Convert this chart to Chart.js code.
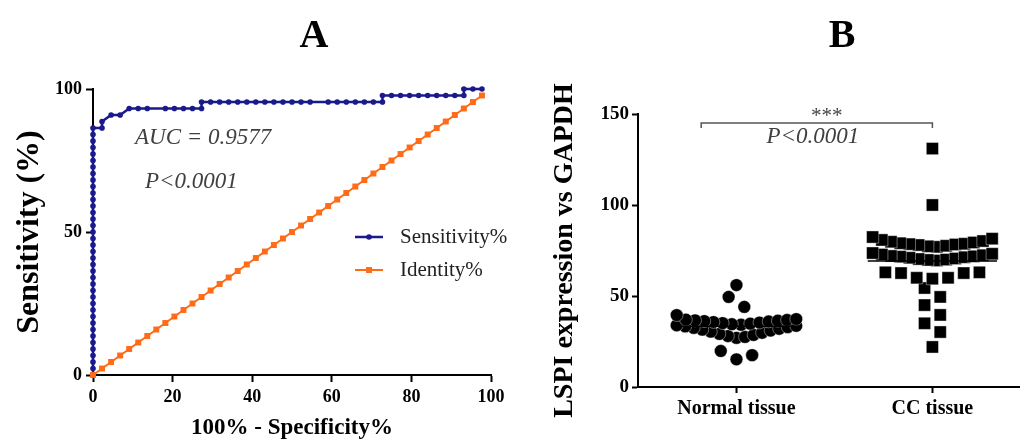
<!DOCTYPE html>
<html>

<head>
  <meta charset="utf-8">
  <title>LSPI ROC curve and expression</title>
  <script src="https://cdn.jsdelivr.net/npm/chart.js@4.4.1/dist/chart.umd.min.js"></script>
  <style>
    html,
    body {
      margin: 0;
      padding: 0;
      background-color: #fff;
    }

    #wrap {
      position: relative;
      width: 1028px;
      height: 440px;
      overflow: hidden;
    }

    .panel {
      position: absolute;
      top: 0;
      width: 514px;
      height: 440px;
    }

    #panelA {
      left: 0;
    }

    #panelB {
      left: 514px;
    }
  </style>
</head>

<body>
  <div id="wrap">
    <div class="panel" id="panelA"><canvas id="rocChart" width="514" height="440"></canvas></div>
    <div class="panel" id="panelB"><canvas id="dotChart" width="514" height="440"></canvas></div>
  </div>

  <script>
    // ---- Panel A: ROC curve (100% - specificity vs sensitivity) ----
    const rocFpr = [
      0, 0, 0, 0, 0, 0, 0, 0, 0, 0,
      0, 0, 0, 0, 0, 0, 0, 0, 0, 0,
      0, 0, 0, 0, 0, 0, 0, 0, 0, 0,
      0, 0, 0, 0, 0, 0, 0, 0, 0,
      2.27, 2.27, 4.55, 6.82,
      9.09, 11.36, 13.64, 18.18, 20.45, 22.73, 25, 27.27,
      27.27, 29.55, 31.82, 34.09, 36.36, 38.64, 40.91, 43.18, 45.45, 47.73,
      50, 52.27, 54.55, 59.09, 61.36, 63.64, 65.91, 68.18, 70.45, 72.73,
      72.73, 75, 77.27, 79.55, 81.82, 84.09, 86.36, 88.64, 90.91, 93.18,
      93.18, 95.45, 97.73
    ];
    const rocSens = [
      0, 2.27, 4.55, 6.82, 9.09, 11.36, 13.64, 15.91, 18.18, 20.45,
      22.73, 25, 27.27, 29.55, 31.82, 34.09, 36.36, 38.64, 40.91, 43.18,
      45.45, 47.73, 50, 52.27, 54.55, 56.82, 59.09, 61.36, 63.64, 65.91,
      68.18, 70.45, 72.73, 75, 77.27, 79.55, 81.82, 84.09, 86.36,
      86.36, 88.64, 90.91, 90.91,
      93.18, 93.18, 93.18, 93.18, 93.18, 93.18, 93.18, 93.18,
      95.45, 95.45, 95.45, 95.45, 95.45, 95.45, 95.45, 95.45, 95.45, 95.45,
      95.45, 95.45, 95.45, 95.45, 95.45, 95.45, 95.45, 95.45, 95.45, 95.45,
      97.73, 97.73, 97.73, 97.73, 97.73, 97.73, 97.73, 97.73, 97.73, 97.73,
      100, 100, 100
    ];
    // identity line: same value on both axes
    const identityPct = [
      0, 2.27, 4.55, 6.82, 9.09, 11.36, 13.64, 15.91, 18.18, 20.45,
      22.73, 25, 27.27, 29.55, 31.82, 34.09, 36.36, 38.64, 40.91, 43.18,
      45.45, 47.73, 50, 52.27, 54.55, 56.82, 59.09, 61.36, 63.64, 65.91,
      68.18, 70.45, 72.73, 75, 77.27, 79.55, 81.82, 84.09, 86.36, 88.64,
      90.91, 93.18, 95.45, 97.73
    ];
    const rocLabels = ['Sensitivity%', 'Identity%'];

    // ---- Panel B: LSPI expression vs GAPDH ----
    const groupNames = ['Normal tissue', 'CC tissue'];
    const normalValues = [
      56, 49.5, 44,
      39.5, 37.3, 37, 36.8, 36.6, 36.4, 36.2, 36, 35.7, 35.4, 35.1, 34.8, 34.5, 34.2,
      33.9, 33.6, 33.3, 32.9, 32.5, 32, 31.5, 31, 30.4, 29.8, 29.2, 28.6, 28, 27.5, 27,
      19.8, 17.5, 15.2
    ];
    const ccValues = [
      131, 100,
      82.4, 81.5, 80.8, 80.2, 79.8, 79.4, 79, 78.7, 78.5, 78.3, 78, 77.6, 77.3, 77,
      73.6, 73.2, 72.8, 72.4, 72, 71.8, 71.6, 71.3, 71, 70.6, 70.3, 70, 69.8, 69.5,
      63, 63, 62.6, 62.6, 60, 60, 59.5,
      54.4, 49.5, 45, 39.6, 35, 30.2, 22
    ];
    const significance = { from: 0.82, to: 2, level: 145, stars: '***', text: 'P<0.0001' };

    Chart.defaults.font.family = '"Liberation Serif", "Times New Roman", serif';
    Chart.defaults.color = '#000';

    const NAVY = '#1a1a8c';
    const ORANGE = '#ff6b17';

    // GraphPad-like scatter: values grouped in rows from the bottom, lowest of a row in the middle
    function swarm(values, centre, rowSpan, step, maxWidth) {
      const sorted = values.slice().sort((a, b) => a - b);
      const pts = [];
      let i = 0;
      while (i < sorted.length) {
        const start = sorted[i];
        const row = [];
        while (i < sorted.length && sorted[i] <= start + rowSpan) row.push(sorted[i++]);
        const n = row.length;
        const gap = n > 1 ? Math.min(step, maxWidth / (n - 1)) : 0;
        row.forEach((v, k) => {
          let slot;
          if (n % 2) slot = k === 0 ? 0 : (k % 2 ? 1 : -1) * Math.ceil(k / 2);
          else slot = (k % 2 ? -1 : 1) * (Math.floor(k / 2) + 0.5);
          pts.push({ x: centre + slot * gap, y: v });
        });
      }
      return pts;
    }

    function meanLine(values, centre) {
      const m = values.reduce((a, b) => a + b, 0) / values.length;
      return [{ x: centre - 0.33, y: m }, { x: centre + 0.33, y: m }];
    }

    const axisLook = {
      grid: { drawOnChartArea: false, drawTicks: true, tickLength: 7, tickWidth: 2, tickColor: '#000' },
      border: { display: true, color: '#000', width: 2 }
    };

    // ---- chart A ----
    const panelAText = {
      id: 'panelAText',
      afterDraw(chart) {
        const ctx = chart.ctx;
        ctx.save();
        ctx.fillStyle = '#000';
        ctx.font = 'bold 40px "Liberation Serif"';
        ctx.textAlign = 'center';
        ctx.textBaseline = 'alphabetic';
        ctx.fillText('A', 314, 47);

        ctx.fillStyle = '#404040';
        ctx.font = 'italic 23px "Liberation Serif"';
        ctx.textAlign = 'left';
        ctx.textBaseline = 'middle';
        ctx.fillText('AUC = 0.9577', 135, 138);
        ctx.fillText('P<0.0001', 145, 182);

        // legend
        const rows = [237, 270];
        [1, 0].forEach((dsIndex, r) => {
          const ds = chart.data.datasets[dsIndex];
          const y = rows[r];
          ctx.strokeStyle = ds.borderColor;
          ctx.lineWidth = ds.borderWidth;
          ctx.beginPath();
          ctx.moveTo(355, y);
          ctx.lineTo(383, y);
          ctx.stroke();
          ctx.fillStyle = ds.pointBackgroundColor;
          Chart.helpers.drawPoint(ctx, { pointStyle: ds.pointStyle, radius: ds.pointRadius, rotation: 0, borderWidth: 0 }, 369, y);
          ctx.fillStyle = '#222';
          ctx.font = '21px "Liberation Serif"';
          ctx.fillText(ds.label, 400, y);
        });
        ctx.restore();
      }
    };

    new Chart(document.getElementById('rocChart'), {
      type: 'scatter',
      data: {
        datasets: [{
          label: rocLabels[1],
          data: identityPct.map(v => ({ x: v, y: v })),
          showLine: true,
          borderColor: ORANGE,
          borderWidth: 2,
          pointStyle: 'rect',
          pointRadius: 4.2,
          pointBackgroundColor: ORANGE,
          pointBorderWidth: 0,
          clip: false,
          order: 0
        }, {
          label: rocLabels[0],
          data: rocFpr.map((x, i) => ({ x: x, y: rocSens[i] })),
          showLine: true,
          borderColor: NAVY,
          borderWidth: 2.5,
          pointStyle: 'circle',
          pointRadius: 2.8,
          pointBackgroundColor: NAVY,
          pointBorderWidth: 0,
          clip: false,
          order: 1
        }]
      },
      options: {
        responsive: false,
        animation: false,
        events: [],
        layout: { padding: { top: 89, right: 23, left: 0, bottom: 0 } },
        plugins: { legend: { display: false }, tooltip: { enabled: false } },
        scales: {
          x: {
            type: 'linear',
            min: 0,
            max: 100,
            afterFit: s => { s.height = 65; },
            ticks: { stepSize: 20, maxRotation: 0, padding: 5, color: '#000', font: { size: 18, weight: 'bold' } },
            grid: axisLook.grid,
            border: axisLook.border,
            title: { display: true, text: '100% - Specificity%', color: '#000', padding: 0, font: { size: 23, weight: 'bold', lineHeight: 1 } }
          },
          y: {
            min: 0,
            max: 100,
            afterFit: s => { s.width = 93; },
            ticks: { stepSize: 50, padding: 4, color: '#000', font: { size: 18, weight: 'bold' } },
            grid: axisLook.grid,
            border: axisLook.border,
            title: { display: true, text: 'Sensitivity (%)', color: '#000', padding: { top: 14, bottom: 0 }, font: { size: 32, weight: 'bold', lineHeight: 1 } }
          }
        }
      },
      plugins: [panelAText]
    });

    // ---- chart B ----
    const panelBText = {
      id: 'panelBText',
      afterDraw(chart) {
        const ctx = chart.ctx;
        const xs = chart.scales.x;
        const ys = chart.scales.y;
        ctx.save();
        ctx.fillStyle = '#000';
        ctx.font = 'bold 40px "Liberation Serif"';
        ctx.textAlign = 'center';
        ctx.textBaseline = 'alphabetic';
        ctx.fillText('B', 328, 47);

        const x1 = xs.getPixelForValue(significance.from);
        const x2 = xs.getPixelForValue(significance.to);
        const y = ys.getPixelForValue(significance.level);
        ctx.strokeStyle = '#555';
        ctx.lineWidth = 1.5;
        ctx.beginPath();
        ctx.moveTo(x1, y + 5);
        ctx.lineTo(x1, y);
        ctx.lineTo(x2, y);
        ctx.lineTo(x2, y + 5);
        ctx.stroke();

        const mid = (x1 + x2) / 2;
        ctx.fillStyle = '#444';
        ctx.textBaseline = 'middle';
        ctx.font = '21px "Liberation Serif"';
        ctx.fillText(significance.stars, mid + 10, y - 7);
        ctx.fillStyle = '#404040';
        ctx.font = 'italic 23px "Liberation Serif"';
        ctx.fillText(significance.text, mid - 4, y + 14);
        ctx.restore();
      }
    };

    new Chart(document.getElementById('dotChart'), {
      type: 'scatter',
      data: {
        datasets: [{
          type: 'line',
          label: groupNames[0] + ' mean',
          data: meanLine(normalValues, 1),
          borderColor: '#000',
          borderWidth: 1.5,
          pointRadius: 0,
          order: 0
        }, {
          type: 'line',
          label: groupNames[1] + ' mean',
          data: meanLine(ccValues, 2),
          borderColor: '#000',
          borderWidth: 1.5,
          pointRadius: 0,
          order: 0
        }, {
          label: groupNames[0],
          data: swarm(normalValues, 1, 7, 0.08, 0.61),
          pointStyle: 'circle',
          pointRadius: 6.4,
          pointBackgroundColor: '#000',
          pointBorderColor: '#fff',
          pointBorderWidth: 0.4,
          clip: false,
          order: 1
        }, {
          label: groupNames[1],
          data: swarm(ccValues, 2, 7, 0.08, 0.61),
          pointStyle: 'rect',
          pointRadius: 8.6,
          pointBackgroundColor: '#000',
          pointBorderColor: '#fff',
          pointBorderWidth: 0.4,
          clip: false,
          order: 1
        }]
      },
      options: {
        responsive: false,
        animation: false,
        events: [],
        layout: { padding: { top: 114, right: 3, left: 0, bottom: 0 } },
        plugins: { legend: { display: false }, tooltip: { enabled: false } },
        scales: {
          x: {
            type: 'linear',
            min: 0.4975,
            max: 2.442,
            afterFit: s => { s.height = 53; },
            afterBuildTicks: s => { s.ticks = groupNames.map((_, i) => ({ value: i + 1 })); },
            ticks: {
              maxRotation: 0,
              autoSkip: false,
              padding: 4,
              color: '#000',
              font: { size: 20, weight: 'bold' },
              callback: v => groupNames[v - 1]
            },
            grid: { drawOnChartArea: false, drawTicks: true, tickLength: 6, tickWidth: 2, tickColor: '#000' },
            border: axisLook.border
          },
          y: {
            min: 0,
            max: 150,
            afterFit: s => { s.width = 124; },
            ticks: { stepSize: 50, padding: 3, color: '#000', font: { size: 19, weight: 'bold' } },
            grid: { drawOnChartArea: false, drawTicks: true, tickLength: 6, tickWidth: 2, tickColor: '#000' },
            border: axisLook.border,
            title: { display: true, text: 'LSPI expression vs GAPDH', color: '#000', padding: { top: 37, bottom: 0 }, font: { size: 28, weight: 'bold', lineHeight: 1 } }
          }
        }
      },
      plugins: [panelBText]
    });
  </script>
</body>

</html>
